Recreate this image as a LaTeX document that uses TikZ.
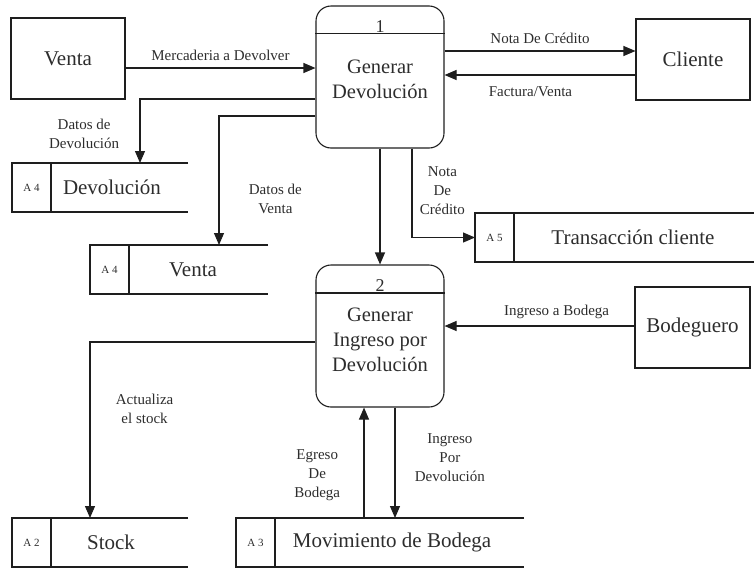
\documentclass[tikz,border=0pt]{standalone}
\usepackage{fontspec}
\setmainfont{Liberation Serif}
\usetikzlibrary{arrows.meta,calc,positioning}
\definecolor{LineClr}{RGB}{30,30,30}
\definecolor{TextClr}{RGB}{45,45,45}

\tikzset{
  linea/.style={line width=1.1pt,color=LineClr},
  flow/.style={linea,-{Triangle[length=12pt,width=10pt]}},
  entity/.style={draw=LineClr,line width=1.1pt,inner sep=0pt,minimum width=114pt,minimum height=81pt,
    font=\fontsize{21}{25}\selectfont,text=TextClr},
  process/.style={draw=LineClr,line width=1.1pt,rounded corners=15pt,inner sep=0pt,minimum width=128pt,
    minimum height=142pt,align=center,font=\fontsize{20.5}{25}\selectfont,text=TextClr},
  store/.style={inner sep=0pt,outer sep=0pt,minimum height=49pt},
  numlbl/.style={font=\fontsize{18}{18}\selectfont,text=TextClr,inner sep=0pt},
  idlbl/.style={font=\fontsize{11}{11}\selectfont,text=TextClr},
  namelbl/.style={font=\fontsize{21}{25}\selectfont,text=TextClr},
  flowlbl/.style={font=\fontsize{15}{19}\selectfont,text=TextClr,align=center}
}

\newcommand{\Almacen}[6]{%
  \node[store,minimum width=#3,anchor=north west] (#1) at (#2) {};
  \draw[linea] (#1.north east) -- (#1.north west) -- (#1.south west) -- (#1.south east);
  \draw[linea] ($(#1.north west)+(39,0)$) -- ($(#1.south west)+(39,0)$);
  \node[idlbl] (#1id) at ($(#1.west)+(19.5,0)$) {#4};
  \node[namelbl] (#1txt) at ($(#1.west)+(#6,0)$) {#5};
}

\begin{document}
\begin{tikzpicture}[x=1pt,y=-1pt]
\useasboundingbox (0,0) rectangle (754,568);

\node[entity] (venta) at (68,58.5) {Venta};
\node[entity] (cliente) at (693,59.5) {Cliente};
\node[entity,minimum width=115pt] (bodeguero) at (692.5,327.5) {Bodeguero};

\node[process] (p1) at (380,77) {\\[-6pt]Generar\\Devoluci\'on};
\draw[linea] ($(p1.north west)+(0,28)$) -- ($(p1.north east)+(0,28)$);
\node[numlbl,anchor=base] (p1num) at ($(p1.north)+(0,27)$) {1};

\node[process] (p2) at (380,336) {\\[-4pt]Generar\\Ingreso por\\Devoluci\'on};
\draw[linea] ($(p2.north west)+(0,28.5)$) -- ($(p2.north east)+(0,28.5)$);
\node[numlbl,anchor=base] (p2num) at ($(p2.north)+(0,27.5)$) {2};

\Almacen{sDev}{12,163}{176pt}{A 4}{Devoluci\'on}{100}
\Almacen{sVenta}{90,245}{178pt}{A 4}{Venta}{103}
\Almacen{sTrans}{475,213}{279pt}{A 5}{Transacci\'on cliente}{158}
\Almacen{sStock}{12,518}{176pt}{A 2}{Stock}{99}
\Almacen{sMov}{236,518}{288pt}{A 3}{Movimiento de Bodega}{156}

\draw[flow] (venta.east |- 0,68) -- node[flowlbl,above=3pt] {Mercaderia a Devolver} (p1.west |- 0,68);
\draw[flow] (p1.east |- 0,51) -- node[flowlbl,above=3pt] {Nota De Cr\'edito} (cliente.west |- 0,51);
\draw[flow] (cliente.west |- 0,75) -- node[flowlbl,below=8pt,pos=0.55] {Factura/Venta} (p1.east |- 0,75);

\draw[flow] (p1.west |- 0,99) -- (140,99)
  -- node[flowlbl,left=17pt,pos=0.55] {Datos de\\Devoluci\'on} (sDev.north -| 140,0);
\draw[flow] (p1.west |- 0,116) -- (219,116)
  -- node[flowlbl,right=26pt,pos=0.64] {Datos de\\Venta} (sVenta.north -| 219,0);
\draw[flow] (p1.south) -- (p2.north);
\draw[flow] (p1.south -| 412,0) -- node[flowlbl,right=4pt,pos=0.47] {Nota\\De\\Cr\'edito} (sTrans.west -| 412,0)
  -- (sTrans.west);

\draw[flow] (bodeguero.west |- 0,326) -- node[flowlbl,above=3pt,pos=0.41] {Ingreso a Bodega} (p2.east |- 0,326);
\draw[flow] (p2.west |- 0,342) -- (90,342)
  -- node[flowlbl,right=22pt,pos=0.38] {Actualiza\\el stock} (sStock.north -| 90,0);
\draw[flow] (sMov.north -| 364,0) -- node[flowlbl,left=20pt,pos=0.39] {Egreso\\De\\Bodega} (p2.south -| 364,0);
\draw[flow] (p2.south -| 395,0) -- node[flowlbl,right=16pt,pos=0.45] {Ingreso\\Por\\Devoluci\'on} (sMov.north -| 395,0);

\end{tikzpicture}
\end{document}
